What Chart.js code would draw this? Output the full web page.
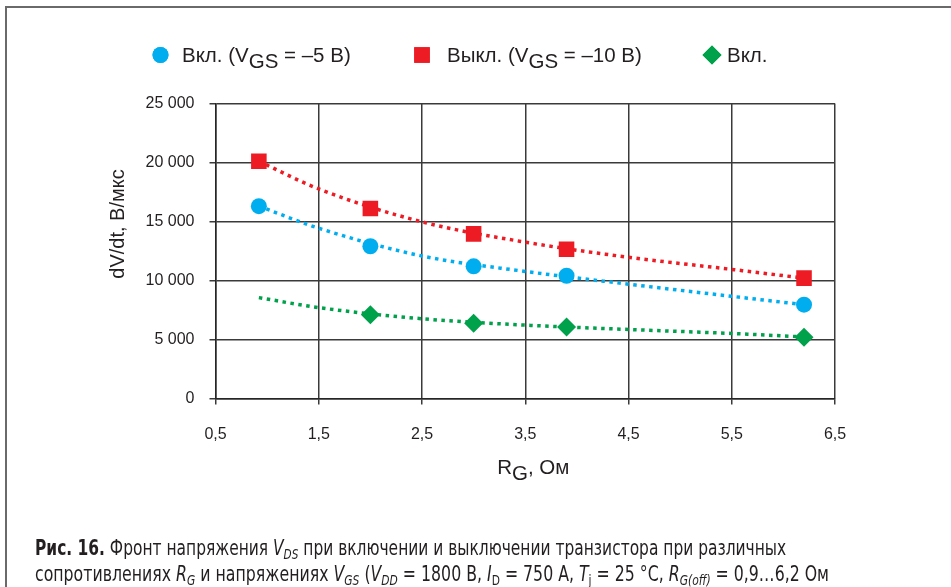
<!DOCTYPE html>
<html lang="ru">
<head>
<meta charset="utf-8">
<title>dV/dt от R_G</title>
<script src="https://cdn.jsdelivr.net/npm/chart.js@4.4.1/dist/chart.umd.min.js"></script>
<style>
  html, body { margin: 0; padding: 0; background: #fff; }
  #wrap { position: relative; width: 951px; height: 587px; overflow: hidden; background: #fff; }
  #frame { position: absolute; left: 5px; top: 6px; width: 960px; height: 600px;
           border-left: 2px solid #6a6a6a; border-top: 2px solid #6a6a6a; }
  #chart { position: absolute; left: 0; top: 0; }
  .cap { position: absolute; left: 35px; white-space: nowrap; line-height: 22px;
         font-family: "Liberation Sans Narrow", "DejaVu Sans Condensed", "Liberation Sans", sans-serif;
         font-size: 21px; color: #231f20; transform-origin: 0 0; }
  .cap b { font-weight: 700; }
  .cap sub { font-size: 68%; vertical-align: -0.3em; line-height: 0; }
</style>
</head>
<body>
<div id="wrap">
  <div id="frame"></div>
  <canvas id="chart" width="951" height="587"></canvas>
  <div class="cap" id="cap1" data-w="751" style="top:537px"><b>Рис. 16.</b> Фронт напряжения <i>V</i><sub><i>DS</i></sub> при включении и выключении транзистора при различных</div>
  <div class="cap" id="cap2" data-w="794" style="top:563px">сопротивлениях <i>R</i><sub><i>G</i></sub> и напряжениях <i>V</i><sub><i>GS</i></sub> (<i>V</i><sub><i>DD</i></sub> = 1800 В, <i>I</i><sub>D</sub> = 750 А, <i>T</i><sub>j</sub> = 25 °C, <i>R</i><sub><i>G(off)</i></sub> = 0,9…6,2 Ом</div>
</div>
<script>
// Сопротивление затвора, Ом
const rgValues = [0.92, 2.0, 3.0, 3.9, 6.2];
// dV/dt, В/мкс: включение при VGS = –5 В
const onVgs5 = [16300, 12900, 11200, 10400, 7950];
// dV/dt, В/мкс: выключение при VGS = –10 В
const offVgs10 = [20100, 16100, 13950, 12650, 10200];
// Включение (третья серия)
const rgOnValues = [2.0, 3.0, 3.9, 6.2];
const onValues = [7100, 6380, 6050, 5200];

// Линии тренда (точки вдоль кривых)
const trendRg = [0.92, 1.5, 2.5, 3.5, 4.5, 5.5, 6.2];
const trendOnVgs5 = [16300, 14430, 12080, 10770, 9690, 8660, 7950];
const trendOffVgs10 = [20100, 17760, 14970, 13250, 11970, 10940, 10200];
const trendOn = [8550, 7700, 6760, 6220, 5850, 5510, 5220];

// Деления осей
const xTicks = [0.5, 1.5, 2.5, 3.5, 4.5, 5.5, 6.5];
const yTicks = [0, 5000, 10000, 15000, 20000, 25000];

// Подписи легенды: [текст, подстрочный]
const legendLabels = [
  [['Вкл. (V', 0], ['GS', 1], [' = –5 В)', 0]],
  [['Выкл. (V', 0], ['GS', 1], [' = –10 В)', 0]],
  [['Вкл.', 0]]
];
const yTitle = 'dV/dt, В/мкс';
const xTitle = [['R', 0], ['G', 1], [', Ом', 0]];

const FONT = '"Liberation Sans", Arial, sans-serif';
const INK = '#231f20';
const BLUE = '#00aeef', RED = '#ed1c24', GREEN = '#00a14b';
const GRID = '#3a3a3a';

const pairs = (xs, ys) => xs.map((x, i) => ({ x, y: ys[i] }));

const trendStyle = (color) => ({
  showLine: true, borderColor: color, borderWidth: 3.5, borderDash: [3.5, 4.5],
  borderCapStyle: 'butt', pointRadius: 0, pointHoverRadius: 0,
  cubicInterpolationMode: 'monotone', fill: false, order: 2
});

function richWidth(ctx, parts, size) {
  let w = 0;
  for (const [t] of parts) { ctx.font = size + 'px ' + FONT; w += ctx.measureText(t).width; }
  return w;
}
function drawRich(ctx, x, y, parts, size) {
  ctx.textAlign = 'left';
  ctx.textBaseline = 'alphabetic';
  for (const [t, sub] of parts) {
    ctx.font = size + 'px ' + FONT;
    ctx.fillText(t, x, y + (sub ? size * 0.3 : 0));
    x += ctx.measureText(t).width;
  }
}

const decorations = {
  id: 'decorations',
  afterDraw(chart) {
    const ctx = chart.ctx;
    const area = chart.chartArea;
    ctx.save();
    ctx.fillStyle = INK;

    // Легенда: маркеры берутся из стилей наборов данных
    const marks = [4, 3, 5];
    const slots = [{ mx: 160.5, tx: 182 }, { mx: 422, tx: 447 }, { mx: 712, tx: 727 }];
    slots.forEach((s, i) => {
      const ds = chart.data.datasets[marks[i]];
      ctx.fillStyle = ds.backgroundColor;
      Chart.helpers.drawPoint(ctx, { pointStyle: ds.pointStyle, radius: ds.pointRadius, borderWidth: 0 }, s.mx, 55);
      ctx.fill();
      ctx.fillStyle = INK;
      drawRich(ctx, s.tx, 62, legendLabels[i], 20.5);
    });

    // Заголовок оси Y
    ctx.save();
    ctx.translate(118, 224);
    ctx.rotate(-Math.PI / 2);
    ctx.font = '20px ' + FONT;
    ctx.textAlign = 'center';
    ctx.textBaseline = 'middle';
    ctx.fillText(yTitle, 0, 0);
    ctx.restore();

    // Заголовок оси X
    const w = richWidth(ctx, xTitle, 20.5);
    drawRich(ctx, (area.left + area.right) / 2 + 8 - w / 2, 474, xTitle, 20.5);
    ctx.restore();
  }
};

new Chart(document.getElementById('chart'), {
  type: 'scatter',
  data: {
    datasets: [
      { data: pairs(trendRg, trendOffVgs10), ...trendStyle(RED) },
      { data: pairs(trendRg, trendOnVgs5), ...trendStyle(BLUE) },
      { data: pairs(trendRg, trendOn), ...trendStyle(GREEN) },
      { data: pairs(rgValues, offVgs10), pointStyle: 'rect', pointRadius: 11, backgroundColor: RED,
        borderWidth: 0, pointHoverRadius: 11, order: 1 },
      { data: pairs(rgValues, onVgs5), pointStyle: 'circle', pointRadius: 8, backgroundColor: BLUE,
        borderWidth: 0, pointHoverRadius: 8, order: 1 },
      { data: pairs(rgOnValues, onValues), pointStyle: 'rectRot', pointRadius: 9.5, backgroundColor: GREEN,
        borderWidth: 0, pointHoverRadius: 9.5, order: 1 }
    ]
  },
  options: {
    responsive: false,
    animation: false,
    devicePixelRatio: 1,
    events: [],
    layout: { padding: { left: 0, top: 103.5, right: 116, bottom: 0 } },
    plugins: { legend: { display: false }, tooltip: { enabled: false }, title: { display: false } },
    scales: {
      x: {
        type: 'linear', min: xTicks[0], max: xTicks[xTicks.length - 1],
        afterBuildTicks: (s) => { s.ticks = xTicks.map(v => ({ value: v })); },
        afterFit: (s) => { s.height = 188.5; },
        ticks: {
          callback: (v) => v.toFixed(1).replace('.', ','),
          font: { family: FONT, size: 16 }, color: INK, padding: 20, maxRotation: 0, autoSkip: false
        },
        grid: { color: GRID, lineWidth: 1.5, tickLength: 6, tickColor: GRID },
        border: { color: '#262626', width: 1.5 }
      },
      y: {
        type: 'linear', min: yTicks[0], max: yTicks[yTicks.length - 1],
        afterBuildTicks: (s) => { s.ticks = yTicks.map(v => ({ value: v })); },
        afterFit: (s) => { s.width = 215.5; },
        ticks: {
          callback: (v) => String(v).replace(/\B(?=(\d{3})+(?!\d))/g, ' '),
          font: { family: FONT, size: 16 }, color: INK, padding: 15
        },
        grid: { color: GRID, lineWidth: 1.5, tickLength: 6, tickColor: GRID },
        border: { color: '#262626', width: 1.5 }
      }
    }
  },
  plugins: [decorations]
});

// Подгонка ширины строк подписи
document.querySelectorAll('.cap').forEach(el => {
  const target = parseFloat(el.dataset.w);
  const w = el.scrollWidth;
  if (w > 0) el.style.transform = 'scaleX(' + (target / w) + ')';
});
</script>
</body>
</html>
